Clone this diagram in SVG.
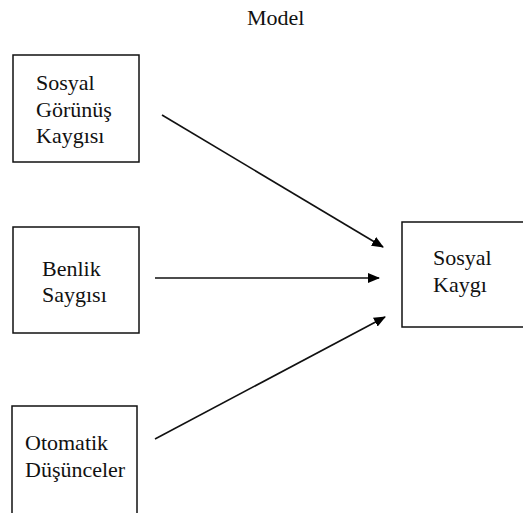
<svg xmlns="http://www.w3.org/2000/svg" width="523" height="513" viewBox="0 0 523 513">
<defs>
<marker id="ah" markerWidth="12" markerHeight="10" refX="11" refY="5" orient="auto" markerUnits="userSpaceOnUse">
<path d="M0,0 L12,5 L0,10 Z" fill="#000"/>
</marker>
<style>
.box{fill:#fff;stroke:#111;stroke-width:1.5}
.t{font-size:22px;fill:#111}
.c{stroke:#111;stroke-width:1.6;fill:none;marker-end:url(#ah)}
</style>
</defs>
<rect width="523" height="513" fill="#fff"/>
<g font-family="Liberation Serif, Times New Roman, serif">
<text class="t" x="247" y="25">Model</text>
<g id="n1">
<rect class="box" x="13" y="55" width="126" height="107"/>
<text class="t" x="36" y="90">Sosyal</text>
<text class="t" x="36" y="117">Görünüş</text>
<text class="t" x="36" y="143">Kaygısı</text>
</g>
<g id="n2">
<rect class="box" x="13" y="227" width="126" height="106"/>
<text class="t" x="42" y="276">Benlik</text>
<text class="t" x="42" y="302">Saygısı</text>
</g>
<g id="n3">
<rect class="box" x="12" y="406" width="125" height="120"/>
<text class="t" x="25" y="450">Otomatik</text>
<text class="t" x="25" y="477">Düşünceler</text>
</g>
<g id="n4">
<rect class="box" x="402" y="222" width="130" height="105"/>
<text class="t" x="433" y="265">Sosyal</text>
<text class="t" x="433" y="292">Kaygı</text>
</g>
</g>
<g id="connectors">
<line class="c" x1="162" y1="115" x2="383" y2="247"/>
<line class="c" x1="155" y1="278" x2="379" y2="278"/>
<line class="c" x1="155" y1="439" x2="385" y2="317"/>
</g>
</svg>
